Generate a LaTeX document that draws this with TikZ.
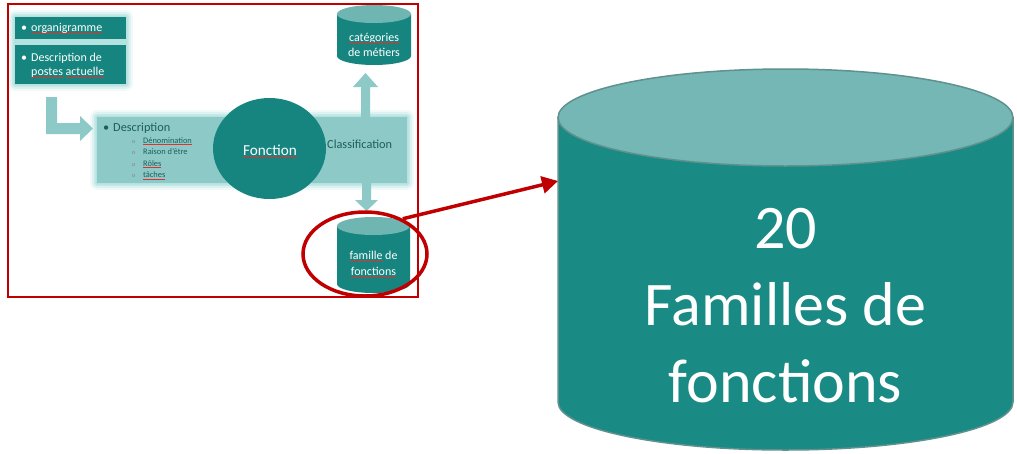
\documentclass[tikz,border=0pt]{standalone}
\usepackage{fontspec}
\setmainfont{Carlito}
\usetikzlibrary{shapes.geometric,arrows.meta}
\definecolor{dteal}{HTML}{17857F}
\definecolor{bteal}{HTML}{1A8A85}
\definecolor{topteal}{HTML}{74B7B4}
\definecolor{stopteal}{HTML}{6FB5B1}
\definecolor{lteal}{HTML}{8DCAC7}
\definecolor{glowc}{HTML}{A6DEDC}
\definecolor{txtteal}{HTML}{1B5E5A}
\definecolor{dred}{HTML}{C00000}
\definecolor{cylline}{HTML}{5F918E}
\definecolor{spell}{HTML}{E03030}
\newsavebox\sqbox
\newcommand\sq[1]{\sbox\sqbox{#1}\usebox\sqbox\llap{\textcolor{spell}{\rule[-1.6pt]{\wd\sqbox}{0.6pt}}}}
\newcommand\glowrect[4]{%
  \foreach \g/\o in {7/0.15,5/0.25,3/0.4,1.5/0.6}{%
    \fill[glowc,opacity=\o,rounded corners=\g pt] (#1-\g,#2-\g) rectangle (#3+\g,#4+\g);}}
\tikzset{
  tbox/.style={fill=dteal,draw=none,inner sep=0pt},
  wtxt/.style={text=white,inner sep=0pt,font=\fontsize{12}{14}\selectfont},
  dtxt/.style={text=txtteal,inner sep=0pt},
  subitem/.style={dtxt,anchor=base west,font=\fontsize{8.4}{10}\selectfont},
  bigtxt/.style={text=white,inner sep=0pt,anchor=base,font=\fontsize{62}{77}\selectfont},
  lightarrow/.style={fill=lteal,draw=none},
  redline/.style={draw=dred,line width=3.5pt}
}
\newcommand\subo{\makebox[11pt][l]{\textcolor{gray}{\fontsize{6}{6}\selectfont o}}}
\begin{document}
\begin{tikzpicture}[x=1pt,y=-1pt]
\useasboundingbox (0,0) rectangle (1017,453);
\fill[white] (0,0) rectangle (1017,453);

% glows
\glowrect{15}{17}{126}{84}
\glowrect{97}{117}{407}{183}

% top-left boxes
\node[tbox,minimum width=111pt,minimum height=22pt] (orgbox) at (70.5,28) {};
\node[tbox,minimum width=111pt,minimum height=39pt] (descbox) at (70.5,64.5) {};
\node[wtxt,anchor=base west] (orgtxt) at (21,31.5) {\makebox[10pt][l]{•}\sq{organigramme}};
\node[wtxt,anchor=base west] (desctxt1) at (21,61) {\makebox[10pt][l]{•}Description de};
\node[wtxt,anchor=base west] (desctxt2) at (31,75.5) {\sq{postes} \sq{actuelle}};

% bent arrow
\path[lightarrow] (46,97) -- (57,97) -- (57,123) -- (80,123) -- (80,116) -- (93,128.5)
  -- (80,141) -- (80,134) -- (46,134) -- cycle;

% vertical arrows
\path[lightarrow] (361,118) -- (361,87) -- (353,87) -- (365.5,73) -- (378,87) -- (370,87) -- (370,118) -- cycle;
\path[lightarrow] (362,182) -- (362,200) -- (355,200) -- (366.5,211) -- (378,200) -- (371,200) -- (371,182) -- cycle;

% main light rectangle
\node[fill=lteal,draw=none,minimum width=310pt,minimum height=66pt,inner sep=0pt] (mainrect) at (252,150) {};

% description text
\node[dtxt,anchor=base west,font=\fontsize{12.3}{14}\selectfont] (descr) at (103,131) {\makebox[10pt][l]{•}Description};
\node[subitem] (s1) at (132,143) {\subo\sq{Dénomination}};
\node[subitem] (s2) at (132,154.5) {\subo Raison d’être};
\node[subitem] (s3) at (132,166) {\subo\sq{Rôles}};
\node[subitem] (s4) at (132,177.5) {\subo\sq{tâches}};

% circle
\node[ellipse,fill=dteal,draw=none,minimum width=113pt,minimum height=101pt,inner sep=0pt] (fonc) at (269.5,148.5) {};
\node[text=white,inner sep=0pt,anchor=base,font=\fontsize{15.2}{18}\selectfont] (fonctxt) at (270,155) {\sq{Fonction}};
\node[dtxt,anchor=base west,font=\fontsize{12.3}{14}\selectfont] (classif) at (327,148) {Classification};

% small cylinder: categories
\fill[dteal] (337,14) -- (337,56) arc[start angle=180,end angle=360,x radius=37pt,y radius=9pt] -- (411,14) -- cycle;
\fill[stopteal] (374,14) ellipse[x radius=37pt,y radius=9pt];
\node[wtxt,anchor=base] (cat1) at (374,41) {\sq{catégories}};
\node[wtxt,anchor=base] (cat2) at (374,56) {de métiers};

% small cylinder: famille
\fill[dteal] (337,226) -- (337,284) arc[start angle=180,end angle=360,x radius=36.5pt,y radius=9pt] -- (410,226) -- cycle;
\fill[stopteal] (373.5,226) ellipse[x radius=36.5pt,y radius=9pt];
\node[wtxt,anchor=base] (fam1) at (373.5,259) {\sq{famille} de};
\node[wtxt,anchor=base] (fam2) at (373.5,275) {\sq{fonctions}};

% red frame
\draw[dred,line width=1.8pt] (8,4) rectangle (418,297);

% big cylinder
\filldraw[fill=bteal,draw=cylline,line width=1.5pt] (558,117.5) -- (558,402) arc[start angle=180,end angle=360,x radius=227.5pt,y radius=48pt] -- (1013,117.5) -- cycle;
\filldraw[fill=topteal,draw=cylline,line width=1.5pt] (785.5,117.5) ellipse[x radius=227.5pt,y radius=48.5pt];
\node[draw=none,minimum width=455pt,minimum height=285pt,inner sep=0pt] (bigcyl) at (785.5,260) {};
\node[bigtxt] (big1) at (785.5,248) {20};
\node[bigtxt] (big2) at (785.5,325) {Familles de};
\node[bigtxt] (big3) at (785.5,402) {fonctions};

% red ring and arrow
\node[ellipse,redline,minimum width=124pt,minimum height=84pt,inner sep=0pt] (ring) at (365,254) {};
\coordinate (tip) at (558,181);
\draw[dred,line width=3.5pt,-{Triangle[length=16pt,width=17pt]}] (ring.43) -- (tip);
\end{tikzpicture}
\end{document}
